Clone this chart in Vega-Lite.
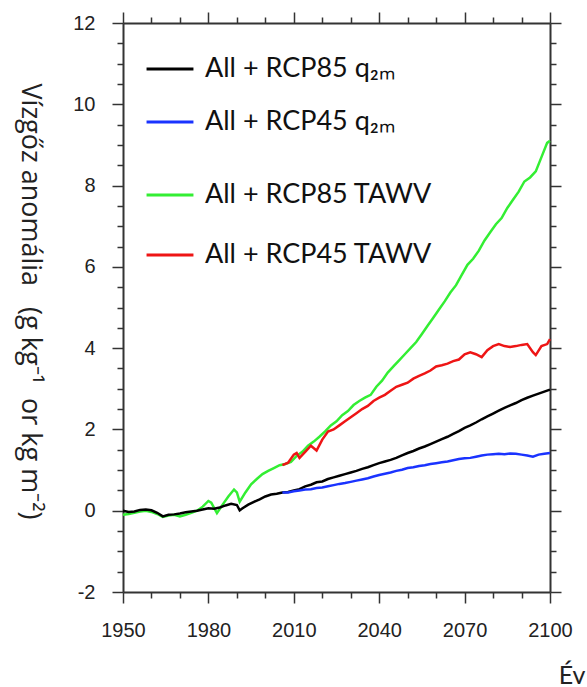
{
  "$schema": "https://vega.github.io/schema/vega-lite/v6.json",
  "width": 427,
  "height": 569,
  "autosize": "none",
  "padding": {"left": 123, "top": 23, "right": 37, "bottom": 95},
  "background": "white",
  "config": {
    "view": {"stroke": null},
    "axis": {"grid": false, "domainColor": "#333333", "domainWidth": 2, "tickColor": "#333333", "tickWidth": 1.5, "labelFont": "Liberation Sans", "labelColor": "#222222", "labelOverlap": false, "labelFlush": false}
  },
  "datasets": {
    "q2m": [
      {"year":1950,"value":0.0,"series":"All + RCP85 q₂ₘ"},{"year":1952,"value":-0.03,"series":"All + RCP85 q₂ₘ"},{"year":1954,"value":-0.02,"series":"All + RCP85 q₂ₘ"},{"year":1956,"value":0.02,"series":"All + RCP85 q₂ₘ"},{"year":1958,"value":0.03,"series":"All + RCP85 q₂ₘ"},{"year":1960,"value":0.01,"series":"All + RCP85 q₂ₘ"},{"year":1962,"value":-0.05,"series":"All + RCP85 q₂ₘ"},{"year":1964,"value":-0.14,"series":"All + RCP85 q₂ₘ"},{"year":1966,"value":-0.1,"series":"All + RCP85 q₂ₘ"},{"year":1968,"value":-0.09,"series":"All + RCP85 q₂ₘ"},{"year":1970,"value":-0.07,"series":"All + RCP85 q₂ₘ"},{"year":1972,"value":-0.04,"series":"All + RCP85 q₂ₘ"},{"year":1974,"value":-0.02,"series":"All + RCP85 q₂ₘ"},{"year":1976,"value":0.0,"series":"All + RCP85 q₂ₘ"},{"year":1978,"value":0.03,"series":"All + RCP85 q₂ₘ"},{"year":1980,"value":0.06,"series":"All + RCP85 q₂ₘ"},{"year":1982,"value":0.05,"series":"All + RCP85 q₂ₘ"},{"year":1984,"value":0.08,"series":"All + RCP85 q₂ₘ"},{"year":1986,"value":0.13,"series":"All + RCP85 q₂ₘ"},{"year":1988,"value":0.17,"series":"All + RCP85 q₂ₘ"},{"year":1990,"value":0.14,"series":"All + RCP85 q₂ₘ"},{"year":1991,"value":0.01,"series":"All + RCP85 q₂ₘ"},{"year":1992,"value":0.06,"series":"All + RCP85 q₂ₘ"},{"year":1994,"value":0.15,"series":"All + RCP85 q₂ₘ"},{"year":1996,"value":0.22,"series":"All + RCP85 q₂ₘ"},{"year":1998,"value":0.28,"series":"All + RCP85 q₂ₘ"},{"year":2000,"value":0.35,"series":"All + RCP85 q₂ₘ"},{"year":2002,"value":0.4,"series":"All + RCP85 q₂ₘ"},{"year":2004,"value":0.42,"series":"All + RCP85 q₂ₘ"},{"year":2006,"value":0.45,"series":"All + RCP85 q₂ₘ"},{"year":2008,"value":0.46,"series":"All + RCP85 q₂ₘ"},{"year":2010,"value":0.5,"series":"All + RCP85 q₂ₘ"},{"year":2012,"value":0.53,"series":"All + RCP85 q₂ₘ"},{"year":2014,"value":0.6,"series":"All + RCP85 q₂ₘ"},{"year":2016,"value":0.64,"series":"All + RCP85 q₂ₘ"},{"year":2018,"value":0.7,"series":"All + RCP85 q₂ₘ"},{"year":2020,"value":0.72,"series":"All + RCP85 q₂ₘ"},{"year":2022,"value":0.78,"series":"All + RCP85 q₂ₘ"},{"year":2024,"value":0.82,"series":"All + RCP85 q₂ₘ"},{"year":2026,"value":0.86,"series":"All + RCP85 q₂ₘ"},{"year":2028,"value":0.9,"series":"All + RCP85 q₂ₘ"},{"year":2030,"value":0.94,"series":"All + RCP85 q₂ₘ"},{"year":2032,"value":0.98,"series":"All + RCP85 q₂ₘ"},{"year":2034,"value":1.03,"series":"All + RCP85 q₂ₘ"},{"year":2036,"value":1.07,"series":"All + RCP85 q₂ₘ"},{"year":2038,"value":1.12,"series":"All + RCP85 q₂ₘ"},{"year":2040,"value":1.17,"series":"All + RCP85 q₂ₘ"},{"year":2042,"value":1.21,"series":"All + RCP85 q₂ₘ"},{"year":2044,"value":1.25,"series":"All + RCP85 q₂ₘ"},{"year":2046,"value":1.3,"series":"All + RCP85 q₂ₘ"},{"year":2048,"value":1.36,"series":"All + RCP85 q₂ₘ"},{"year":2050,"value":1.42,"series":"All + RCP85 q₂ₘ"},{"year":2052,"value":1.47,"series":"All + RCP85 q₂ₘ"},{"year":2054,"value":1.53,"series":"All + RCP85 q₂ₘ"},{"year":2056,"value":1.58,"series":"All + RCP85 q₂ₘ"},{"year":2058,"value":1.64,"series":"All + RCP85 q₂ₘ"},{"year":2060,"value":1.7,"series":"All + RCP85 q₂ₘ"},{"year":2062,"value":1.76,"series":"All + RCP85 q₂ₘ"},{"year":2064,"value":1.82,"series":"All + RCP85 q₂ₘ"},{"year":2066,"value":1.89,"series":"All + RCP85 q₂ₘ"},{"year":2068,"value":1.96,"series":"All + RCP85 q₂ₘ"},{"year":2070,"value":2.04,"series":"All + RCP85 q₂ₘ"},{"year":2072,"value":2.1,"series":"All + RCP85 q₂ₘ"},{"year":2074,"value":2.17,"series":"All + RCP85 q₂ₘ"},{"year":2076,"value":2.25,"series":"All + RCP85 q₂ₘ"},{"year":2078,"value":2.32,"series":"All + RCP85 q₂ₘ"},{"year":2080,"value":2.39,"series":"All + RCP85 q₂ₘ"},{"year":2082,"value":2.46,"series":"All + RCP85 q₂ₘ"},{"year":2084,"value":2.53,"series":"All + RCP85 q₂ₘ"},{"year":2086,"value":2.59,"series":"All + RCP85 q₂ₘ"},{"year":2088,"value":2.65,"series":"All + RCP85 q₂ₘ"},{"year":2090,"value":2.72,"series":"All + RCP85 q₂ₘ"},{"year":2092,"value":2.78,"series":"All + RCP85 q₂ₘ"},{"year":2094,"value":2.83,"series":"All + RCP85 q₂ₘ"},{"year":2096,"value":2.88,"series":"All + RCP85 q₂ₘ"},{"year":2098,"value":2.93,"series":"All + RCP85 q₂ₘ"},{"year":2100,"value":2.98,"series":"All + RCP85 q₂ₘ"},
      {"year":2006,"value":0.45,"series":"All + RCP45 q₂ₘ"},{"year":2008,"value":0.45,"series":"All + RCP45 q₂ₘ"},{"year":2010,"value":0.48,"series":"All + RCP45 q₂ₘ"},{"year":2012,"value":0.5,"series":"All + RCP45 q₂ₘ"},{"year":2014,"value":0.52,"series":"All + RCP45 q₂ₘ"},{"year":2016,"value":0.53,"series":"All + RCP45 q₂ₘ"},{"year":2018,"value":0.56,"series":"All + RCP45 q₂ₘ"},{"year":2020,"value":0.57,"series":"All + RCP45 q₂ₘ"},{"year":2022,"value":0.6,"series":"All + RCP45 q₂ₘ"},{"year":2024,"value":0.63,"series":"All + RCP45 q₂ₘ"},{"year":2026,"value":0.66,"series":"All + RCP45 q₂ₘ"},{"year":2028,"value":0.68,"series":"All + RCP45 q₂ₘ"},{"year":2030,"value":0.71,"series":"All + RCP45 q₂ₘ"},{"year":2032,"value":0.74,"series":"All + RCP45 q₂ₘ"},{"year":2034,"value":0.77,"series":"All + RCP45 q₂ₘ"},{"year":2036,"value":0.8,"series":"All + RCP45 q₂ₘ"},{"year":2038,"value":0.84,"series":"All + RCP45 q₂ₘ"},{"year":2040,"value":0.88,"series":"All + RCP45 q₂ₘ"},{"year":2042,"value":0.91,"series":"All + RCP45 q₂ₘ"},{"year":2044,"value":0.94,"series":"All + RCP45 q₂ₘ"},{"year":2046,"value":0.98,"series":"All + RCP45 q₂ₘ"},{"year":2048,"value":1.01,"series":"All + RCP45 q₂ₘ"},{"year":2050,"value":1.05,"series":"All + RCP45 q₂ₘ"},{"year":2052,"value":1.07,"series":"All + RCP45 q₂ₘ"},{"year":2054,"value":1.1,"series":"All + RCP45 q₂ₘ"},{"year":2056,"value":1.12,"series":"All + RCP45 q₂ₘ"},{"year":2058,"value":1.15,"series":"All + RCP45 q₂ₘ"},{"year":2060,"value":1.17,"series":"All + RCP45 q₂ₘ"},{"year":2062,"value":1.19,"series":"All + RCP45 q₂ₘ"},{"year":2064,"value":1.21,"series":"All + RCP45 q₂ₘ"},{"year":2066,"value":1.24,"series":"All + RCP45 q₂ₘ"},{"year":2068,"value":1.27,"series":"All + RCP45 q₂ₘ"},{"year":2070,"value":1.29,"series":"All + RCP45 q₂ₘ"},{"year":2072,"value":1.3,"series":"All + RCP45 q₂ₘ"},{"year":2074,"value":1.33,"series":"All + RCP45 q₂ₘ"},{"year":2076,"value":1.36,"series":"All + RCP45 q₂ₘ"},{"year":2078,"value":1.38,"series":"All + RCP45 q₂ₘ"},{"year":2080,"value":1.39,"series":"All + RCP45 q₂ₘ"},{"year":2082,"value":1.4,"series":"All + RCP45 q₂ₘ"},{"year":2084,"value":1.39,"series":"All + RCP45 q₂ₘ"},{"year":2086,"value":1.41,"series":"All + RCP45 q₂ₘ"},{"year":2088,"value":1.4,"series":"All + RCP45 q₂ₘ"},{"year":2090,"value":1.38,"series":"All + RCP45 q₂ₘ"},{"year":2092,"value":1.36,"series":"All + RCP45 q₂ₘ"},{"year":2094,"value":1.33,"series":"All + RCP45 q₂ₘ"},{"year":2096,"value":1.38,"series":"All + RCP45 q₂ₘ"},{"year":2098,"value":1.4,"series":"All + RCP45 q₂ₘ"},{"year":2100,"value":1.42,"series":"All + RCP45 q₂ₘ"}
    ],
    "tawv": [
      {"year":1950,"value":-0.1,"series":"All + RCP85  TAWV"},{"year":1952,"value":-0.08,"series":"All + RCP85  TAWV"},{"year":1954,"value":-0.05,"series":"All + RCP85  TAWV"},{"year":1956,"value":-0.02,"series":"All + RCP85  TAWV"},{"year":1958,"value":0.0,"series":"All + RCP85  TAWV"},{"year":1960,"value":-0.03,"series":"All + RCP85  TAWV"},{"year":1962,"value":-0.08,"series":"All + RCP85  TAWV"},{"year":1964,"value":-0.15,"series":"All + RCP85  TAWV"},{"year":1966,"value":-0.12,"series":"All + RCP85  TAWV"},{"year":1968,"value":-0.1,"series":"All + RCP85  TAWV"},{"year":1970,"value":-0.14,"series":"All + RCP85  TAWV"},{"year":1972,"value":-0.1,"series":"All + RCP85  TAWV"},{"year":1974,"value":-0.05,"series":"All + RCP85  TAWV"},{"year":1976,"value":0.0,"series":"All + RCP85  TAWV"},{"year":1978,"value":0.1,"series":"All + RCP85  TAWV"},{"year":1980,"value":0.24,"series":"All + RCP85  TAWV"},{"year":1981,"value":0.2,"series":"All + RCP85  TAWV"},{"year":1983,"value":-0.06,"series":"All + RCP85  TAWV"},{"year":1985,"value":0.15,"series":"All + RCP85  TAWV"},{"year":1987,"value":0.35,"series":"All + RCP85  TAWV"},{"year":1989,"value":0.52,"series":"All + RCP85  TAWV"},{"year":1990,"value":0.45,"series":"All + RCP85  TAWV"},{"year":1991,"value":0.22,"series":"All + RCP85  TAWV"},{"year":1993,"value":0.45,"series":"All + RCP85  TAWV"},{"year":1995,"value":0.65,"series":"All + RCP85  TAWV"},{"year":1997,"value":0.78,"series":"All + RCP85  TAWV"},{"year":1999,"value":0.9,"series":"All + RCP85  TAWV"},{"year":2001,"value":0.98,"series":"All + RCP85  TAWV"},{"year":2003,"value":1.05,"series":"All + RCP85  TAWV"},{"year":2005,"value":1.12,"series":"All + RCP85  TAWV"},{"year":2007,"value":1.15,"series":"All + RCP85  TAWV"},{"year":2009,"value":1.2,"series":"All + RCP85  TAWV"},{"year":2011,"value":1.35,"series":"All + RCP85  TAWV"},{"year":2013,"value":1.45,"series":"All + RCP85  TAWV"},{"year":2015,"value":1.6,"series":"All + RCP85  TAWV"},{"year":2017,"value":1.7,"series":"All + RCP85  TAWV"},{"year":2019,"value":1.82,"series":"All + RCP85  TAWV"},{"year":2021,"value":1.95,"series":"All + RCP85  TAWV"},{"year":2023,"value":2.1,"series":"All + RCP85  TAWV"},{"year":2025,"value":2.2,"series":"All + RCP85  TAWV"},{"year":2027,"value":2.35,"series":"All + RCP85  TAWV"},{"year":2029,"value":2.45,"series":"All + RCP85  TAWV"},{"year":2031,"value":2.6,"series":"All + RCP85  TAWV"},{"year":2033,"value":2.7,"series":"All + RCP85  TAWV"},{"year":2035,"value":2.78,"series":"All + RCP85  TAWV"},{"year":2037,"value":2.85,"series":"All + RCP85  TAWV"},{"year":2039,"value":3.05,"series":"All + RCP85  TAWV"},{"year":2041,"value":3.2,"series":"All + RCP85  TAWV"},{"year":2043,"value":3.4,"series":"All + RCP85  TAWV"},{"year":2045,"value":3.55,"series":"All + RCP85  TAWV"},{"year":2047,"value":3.7,"series":"All + RCP85  TAWV"},{"year":2049,"value":3.85,"series":"All + RCP85  TAWV"},{"year":2051,"value":4.0,"series":"All + RCP85  TAWV"},{"year":2053,"value":4.15,"series":"All + RCP85  TAWV"},{"year":2055,"value":4.35,"series":"All + RCP85  TAWV"},{"year":2057,"value":4.55,"series":"All + RCP85  TAWV"},{"year":2059,"value":4.75,"series":"All + RCP85  TAWV"},{"year":2061,"value":4.95,"series":"All + RCP85  TAWV"},{"year":2063,"value":5.15,"series":"All + RCP85  TAWV"},{"year":2065,"value":5.37,"series":"All + RCP85  TAWV"},{"year":2067,"value":5.55,"series":"All + RCP85  TAWV"},{"year":2069,"value":5.8,"series":"All + RCP85  TAWV"},{"year":2071,"value":6.05,"series":"All + RCP85  TAWV"},{"year":2073,"value":6.2,"series":"All + RCP85  TAWV"},{"year":2075,"value":6.4,"series":"All + RCP85  TAWV"},{"year":2077,"value":6.65,"series":"All + RCP85  TAWV"},{"year":2079,"value":6.85,"series":"All + RCP85  TAWV"},{"year":2081,"value":7.05,"series":"All + RCP85  TAWV"},{"year":2083,"value":7.2,"series":"All + RCP85  TAWV"},{"year":2085,"value":7.45,"series":"All + RCP85  TAWV"},{"year":2087,"value":7.65,"series":"All + RCP85  TAWV"},{"year":2089,"value":7.85,"series":"All + RCP85  TAWV"},{"year":2091,"value":8.1,"series":"All + RCP85  TAWV"},{"year":2093,"value":8.2,"series":"All + RCP85  TAWV"},{"year":2095,"value":8.35,"series":"All + RCP85  TAWV"},{"year":2097,"value":8.7,"series":"All + RCP85  TAWV"},{"year":2099,"value":9.05,"series":"All + RCP85  TAWV"},{"year":2100,"value":9.1,"series":"All + RCP85  TAWV"},
      {"year":2006,"value":1.12,"series":"All + RCP45  TAWV"},{"year":2008,"value":1.18,"series":"All + RCP45  TAWV"},{"year":2010,"value":1.38,"series":"All + RCP45  TAWV"},{"year":2011,"value":1.42,"series":"All + RCP45  TAWV"},{"year":2012,"value":1.3,"series":"All + RCP45  TAWV"},{"year":2014,"value":1.45,"series":"All + RCP45  TAWV"},{"year":2016,"value":1.6,"series":"All + RCP45  TAWV"},{"year":2018,"value":1.48,"series":"All + RCP45  TAWV"},{"year":2020,"value":1.75,"series":"All + RCP45  TAWV"},{"year":2022,"value":1.95,"series":"All + RCP45  TAWV"},{"year":2024,"value":2.0,"series":"All + RCP45  TAWV"},{"year":2026,"value":2.1,"series":"All + RCP45  TAWV"},{"year":2028,"value":2.2,"series":"All + RCP45  TAWV"},{"year":2030,"value":2.3,"series":"All + RCP45  TAWV"},{"year":2032,"value":2.4,"series":"All + RCP45  TAWV"},{"year":2034,"value":2.5,"series":"All + RCP45  TAWV"},{"year":2036,"value":2.58,"series":"All + RCP45  TAWV"},{"year":2038,"value":2.7,"series":"All + RCP45  TAWV"},{"year":2040,"value":2.78,"series":"All + RCP45  TAWV"},{"year":2042,"value":2.85,"series":"All + RCP45  TAWV"},{"year":2044,"value":2.95,"series":"All + RCP45  TAWV"},{"year":2046,"value":3.05,"series":"All + RCP45  TAWV"},{"year":2048,"value":3.1,"series":"All + RCP45  TAWV"},{"year":2050,"value":3.15,"series":"All + RCP45  TAWV"},{"year":2052,"value":3.25,"series":"All + RCP45  TAWV"},{"year":2054,"value":3.32,"series":"All + RCP45  TAWV"},{"year":2056,"value":3.38,"series":"All + RCP45  TAWV"},{"year":2058,"value":3.45,"series":"All + RCP45  TAWV"},{"year":2060,"value":3.55,"series":"All + RCP45  TAWV"},{"year":2062,"value":3.58,"series":"All + RCP45  TAWV"},{"year":2064,"value":3.62,"series":"All + RCP45  TAWV"},{"year":2066,"value":3.68,"series":"All + RCP45  TAWV"},{"year":2068,"value":3.72,"series":"All + RCP45  TAWV"},{"year":2070,"value":3.85,"series":"All + RCP45  TAWV"},{"year":2072,"value":3.9,"series":"All + RCP45  TAWV"},{"year":2074,"value":3.85,"series":"All + RCP45  TAWV"},{"year":2076,"value":3.78,"series":"All + RCP45  TAWV"},{"year":2078,"value":3.95,"series":"All + RCP45  TAWV"},{"year":2080,"value":4.05,"series":"All + RCP45  TAWV"},{"year":2082,"value":4.1,"series":"All + RCP45  TAWV"},{"year":2084,"value":4.05,"series":"All + RCP45  TAWV"},{"year":2086,"value":4.03,"series":"All + RCP45  TAWV"},{"year":2088,"value":4.05,"series":"All + RCP45  TAWV"},{"year":2090,"value":4.08,"series":"All + RCP45  TAWV"},{"year":2092,"value":4.1,"series":"All + RCP45  TAWV"},{"year":2094,"value":3.9,"series":"All + RCP45  TAWV"},{"year":2095,"value":3.83,"series":"All + RCP45  TAWV"},{"year":2097,"value":4.05,"series":"All + RCP45  TAWV"},{"year":2099,"value":4.1,"series":"All + RCP45  TAWV"},{"year":2100,"value":4.22,"series":"All + RCP45  TAWV"}
    ]
  },
  "layer": [
    {
      "data": {"name": "tawv"},
      "mark": {"type": "line", "strokeWidth": 2.5},
      "encoding": {
        "x": {"field": "year", "type": "quantitative", "scale": {"domain": [1950, 2100], "nice": false},
          "axis": {"orient": "top", "values": [1950,1960,1970,1980,1990,2000,2010,2020,2030,2040,2050,2060,2070,2080,2090,2100], "labels": false, "title": null,
            "tickSize": {"condition": {"test": "datum.value % 30 === 0", "value": 11}, "value": 6}}},
        "y": {"field": "value", "type": "quantitative", "scale": {"domain": [-2, 12], "nice": false, "zero": false},
          "axis": {"orient": "right", "values": [-2,-1.5,-1,-0.5,0,0.5,1,1.5,2,2.5,3,3.5,4,4.5,5,5.5,6,6.5,7,7.5,8,8.5,9,9.5,10,10.5,11,11.5,12], "labels": false, "title": null,
            "tickSize": {"condition": {"test": "datum.value % 2 === 0", "value": 11}, "value": 6}}},
        "stroke": {"field": "series", "type": "nominal",
          "scale": {"domain": ["All + RCP85  TAWV", "All + RCP45  TAWV"], "range": ["#33ee33", "#ee1515"]},
          "legend": {"orient": "none", "legendX": 22, "legendY": 147, "title": null, "symbolType": "stroke", "symbolStrokeWidth": 3, "symbolSize": 2200, "labelFont": "Lato", "labelFontSize": 27, "labelLimit": 500, "labelColor": "#111111", "labelOffset": 10, "rowPadding": 22, "padding": 0}}
      }
    },
    {
      "data": {"name": "q2m"},
      "mark": {"type": "line", "strokeWidth": 2.5},
      "encoding": {
        "x": {"field": "year", "type": "quantitative",
          "axis": {"orient": "bottom", "values": [1950,1960,1970,1980,1990,2000,2010,2020,2030,2040,2050,2060,2070,2080,2090,2100],
            "labelExpr": "datum.value % 30 === 0 ? datum.value + '' : ''", "labelFontSize": 20, "labelPadding": 17,
            "tickSize": {"condition": {"test": "datum.value % 30 === 0", "value": 11}, "value": 6},
            "title": "Év", "titleFont": "Lato", "titleFontSize": 25, "titleFontWeight": "normal", "titleColor": "#222222", "titleAnchor": "end", "titleAlign": "right", "titleBaseline": "alphabetic", "titleX": 462, "titleY": 91}},
        "y": {"field": "value", "type": "quantitative",
          "axis": {"orient": "left", "values": [-2,-1.5,-1,-0.5,0,0.5,1,1.5,2,2.5,3,3.5,4,4.5,5,5.5,6,6.5,7,7.5,8,8.5,9,9.5,10,10.5,11,11.5,12],
            "labelExpr": "datum.value % 2 === 0 ? datum.value + '' : ''", "labelFontSize": 20, "labelPadding": 17,
            "tickSize": {"condition": {"test": "datum.value % 2 === 0", "value": 11}, "value": 6},
            "title": "Vízgőz anomália \u00a0\u00a0(g kg⁻¹ \u00a0or kg m⁻²)", "titleFont": "Open Sans", "titleFontSize": 27, "titleFontWeight": "normal", "titleColor": "#222222", "titleAngle": 90, "titleX": -94, "titleY": 278, "titleBaseline": "middle", "titleAlign": "center", "titleLimit": 600}},
        "color": {"field": "series", "type": "nominal",
          "scale": {"domain": ["All + RCP85 q₂ₘ", "All + RCP45 q₂ₘ"], "range": ["#000000", "#1a33ff"]},
          "legend": {"orient": "none", "legendX": 22, "legendY": 21, "title": null, "symbolType": "stroke", "symbolStrokeWidth": 3, "symbolSize": 2200, "labelFont": "Lato", "labelFontSize": 27, "labelLimit": 500, "labelColor": "#111111", "labelOffset": 10, "rowPadding": 15, "padding": 0}}
      }
    },
    {
      "mark": {"type": "rule", "color": "#777777", "strokeWidth": 1},
      "encoding": {"y": {"datum": 0, "type": "quantitative", "axis": null}}
    }
  ],
  "resolve": {"axis": {"x": "independent", "y": "independent"}, "scale": {"color": "independent", "stroke": "independent"}}
}
